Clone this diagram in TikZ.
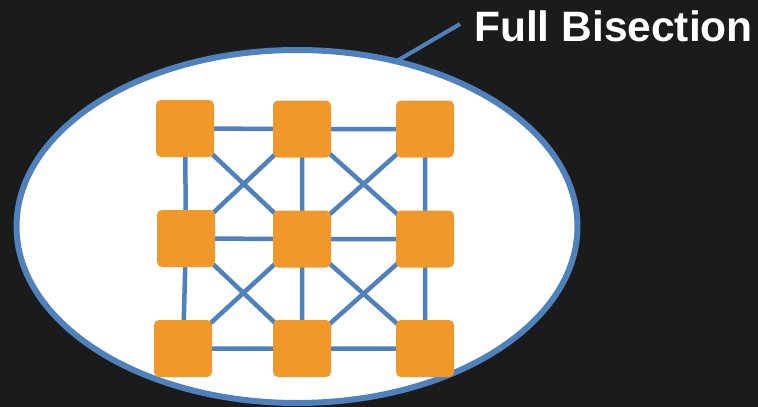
\documentclass[tikz,border=0pt]{standalone}
\usepackage{fontspec}
\setmainfont{Liberation Sans}
\definecolor{bg}{HTML}{1B1B1B}
\definecolor{edgeblue}{HTML}{4F81BD}
\definecolor{nodeorange}{HTML}{F0992A}
\pgfdeclarelayer{back}
\pgfdeclarelayer{links}
\pgfsetlayers{back,links,main}
\begin{document}
\begin{tikzpicture}[x=1pt,y=-1pt,
  sw/.style={draw=none,fill=nodeorange,rounded corners=5pt,minimum width=58pt,minimum height=57pt,inner sep=0pt},
  link/.style={draw=edgeblue,line width=4.5pt},
  ring/.style={draw=edgeblue,line width=6pt,fill=white}]
\begin{pgfonlayer}{back}
\fill[bg] (0,0) rectangle (758,407);
\draw[ring] (297,226.5) ellipse [x radius=280.5, y radius=176.5];
\end{pgfonlayer}
\useasboundingbox (0,0) rectangle (758,407);
\node[anchor=base west,text=white,font=\fontsize{42.5}{48}\selectfont\bfseries,inner sep=0pt] (lbl) at (474,41) {Full Bisection};
\coordinate (tip) at (395,62);
\coordinate (lstart) at (460,24);
\draw[edgeblue,line width=4pt] (lstart) -- (tip);
% switches
\node[sw] (a1) at (185,128.5) {};
\node[sw] (a2) at (302,129) {};
\node[sw] (a3) at (425,129) {};
\node[sw] (b1) at (186,238.5) {};
\node[sw] (b2) at (302,239) {};
\node[sw] (b3) at (425,239) {};
\node[sw] (c1) at (183,348.5) {};
\node[sw] (c2) at (302,348.5) {};
\node[sw] (c3) at (425,348.5) {};
\begin{pgfonlayer}{links}
\path[link] (a1.center) -- (a2.center) (a2.center) -- (a3.center)
  (b1.center) -- (b2.center) (b2.center) -- (b3.center)
  (c1.center) -- (c2.center) (c2.center) -- (c3.center)
  (a1.center) -- (b1.center) (b1.center) -- (c1.center)
  (a2.center) -- (b2.center) (b2.center) -- (c2.center)
  (a3.center) -- (b3.center) (b3.center) -- (c3.center)
  (a1.center) -- (b2.center) (a2.center) -- (b1.center)
  (a2.center) -- (b3.center) (a3.center) -- (b2.center)
  (b1.center) -- (c2.center) (b2.center) -- (c1.center)
  (b2.center) -- (c3.center) (b3.center) -- (c2.center);
\end{pgfonlayer}
\end{tikzpicture}
\end{document}
